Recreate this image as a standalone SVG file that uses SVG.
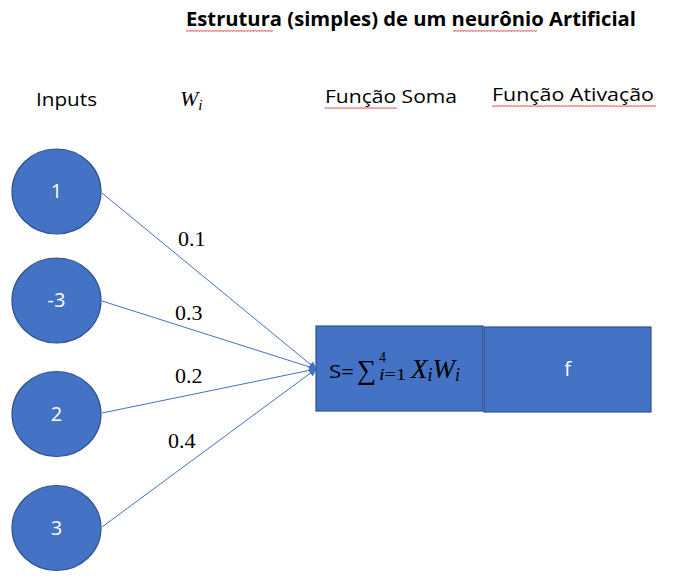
<svg xmlns="http://www.w3.org/2000/svg" width="683" height="581" viewBox="0 0 683 581">
<style>
.lbl{font-family:"Open Sans","Liberation Sans",sans-serif;font-size:19px;fill:#000}
.title{font-family:"Open Sans","Liberation Sans",sans-serif;font-size:19px;font-weight:bold;fill:#000}
.num{font-family:"Open Sans","Liberation Sans",sans-serif;font-size:20px;fill:#fff;text-anchor:middle}
.math{font-family:"Liberation Serif","DejaVu Serif",serif;fill:#000}
.node{fill:#4472C4;stroke:#2F528F;stroke-width:1.2}
.edge{stroke:#4472C4;stroke-width:1;fill:none;marker-end:url(#arr)}
.wavy{stroke:#E03030;stroke-width:0.7;fill:none}
</style>
<defs>
<marker id="arr" markerWidth="8" markerHeight="8" refX="7" refY="4" orient="auto" markerUnits="userSpaceOnUse">
<path d="M0,0 L8,4 L0,8 Z" fill="#4472C4"/>
</marker>
<pattern id="wv" width="3" height="2" patternUnits="userSpaceOnUse"><path d="M0,1.6 L0.75,0.4 L1.5,1.6 L2.25,0.4 L3,1.6" class="wavy"/></pattern>
</defs>
<text class="title" x="186" y="26" textLength="450" lengthAdjust="spacingAndGlyphs">Estrutura (simples) de um neurônio Artificial</text>
<rect x="186" y="30" width="87" height="2" fill="url(#wv)"/>
<rect x="453" y="30" width="84" height="2" fill="url(#wv)"/>

<text class="lbl" x="36" y="106" textLength="61" lengthAdjust="spacingAndGlyphs">Inputs</text>
<text class="math" x="180" y="106" font-size="22" font-style="italic">W<tspan font-size="15" dy="4">i</tspan></text>
<text class="lbl" x="325" y="103" textLength="132" lengthAdjust="spacingAndGlyphs">Função Soma</text>
<rect x="325" y="107" width="72" height="2" fill="url(#wv)"/>
<text class="lbl" x="492" y="101" textLength="162" lengthAdjust="spacingAndGlyphs">Função Ativação</text>
<rect x="492" y="105" width="164" height="2" fill="url(#wv)"/>

<g id="connectors">
<line class="edge" x1="102" y1="193" x2="316" y2="369"/>
<line class="edge" x1="102" y1="301" x2="316" y2="369"/>
<line class="edge" x1="102" y1="413" x2="316" y2="369"/>
<line class="edge" x1="102" y1="527" x2="316" y2="369"/>
<text class="math" x="178" y="246" font-size="22">0.1</text>
<text class="math" x="175" y="320" font-size="22">0.3</text>
<text class="math" x="175" y="383" font-size="22">0.2</text>
<text class="math" x="168" y="448" font-size="22">0.4</text>
</g>

<g id="in1"><ellipse class="node" cx="56.5" cy="191.5" rx="44.5" ry="42.5"/><text class="num" x="56.5" y="198">1</text></g>
<g id="in2"><ellipse class="node" cx="56.5" cy="300.5" rx="44.5" ry="42.5"/><text class="num" x="56.5" y="307">-3</text></g>
<g id="in3"><ellipse class="node" cx="56.5" cy="414" rx="44.5" ry="42.5"/><text class="num" x="56.5" y="421">2</text></g>
<g id="in4"><ellipse class="node" cx="56.5" cy="528" rx="44.5" ry="42.5"/><text class="num" x="56.5" y="535">3</text></g>

<g id="soma">
<rect class="node" x="316" y="326" width="167" height="85"/>
<text class="lbl" x="329" y="378" font-size="21" textLength="25" lengthAdjust="spacingAndGlyphs">S=</text>
<text class="math" x="357" y="379" font-size="27">∑</text>
<text class="math" x="379" y="362" font-size="14">4</text>
<text class="math" x="379" y="380" font-size="16" font-style="italic" textLength="27" lengthAdjust="spacingAndGlyphs">i<tspan font-style="normal">=1</tspan></text>
<text class="math" x="411" y="378" font-size="27" font-style="italic">X<tspan font-size="18" dy="3">i</tspan><tspan dy="-3">W</tspan><tspan font-size="18" dy="3">i</tspan></text>
</g>
<g id="ativacao">
<rect class="node" x="484" y="327" width="167" height="85"/>
<text class="num" x="567.5" y="376">f</text>
</g>
</svg>
